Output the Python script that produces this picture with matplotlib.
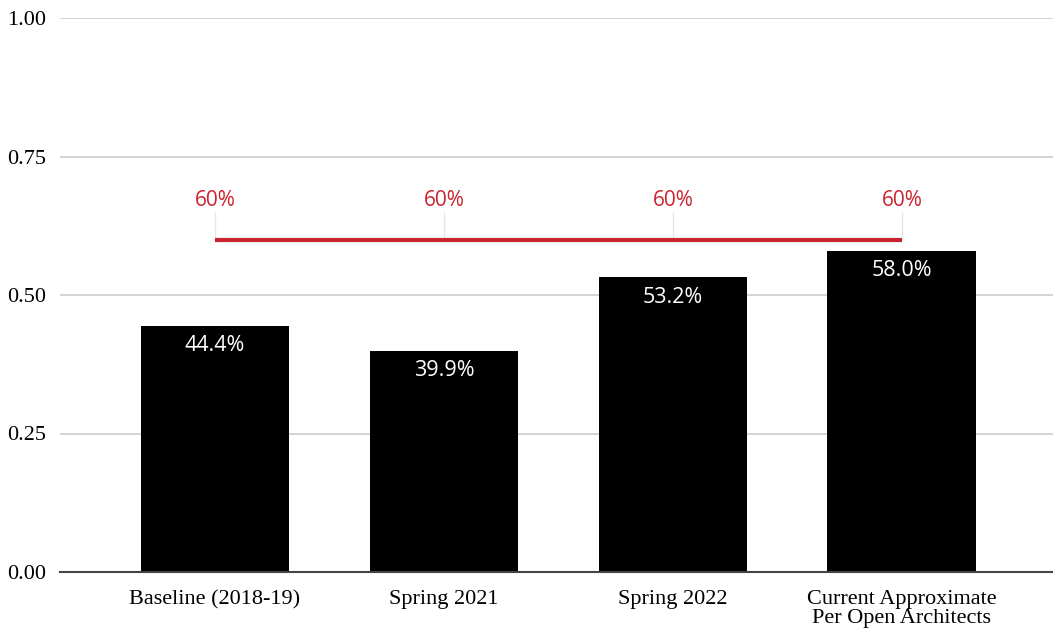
import matplotlib.pyplot as plt
import numpy as np

categories = ["Baseline (2018-19)", "Spring 2021", "Spring 2022",
              "Current Approximate\nPer Open Architects"]
values = [0.444, 0.399, 0.532, 0.580]
value_labels = ["44.4%", "39.9%", "53.2%", "58.0%"]
target = [0.60, 0.60, 0.60, 0.60]
target_labels = ["60%", "60%", "60%", "60%"]
yticks = [0.0, 0.25, 0.5, 0.75, 1.0]

RED = "#c9232f"

fig = plt.figure(figsize=(10.53, 6.28), dpi=100)
ax = fig.add_axes([60 / 1053, 1 - 572 / 628, 993 / 1053, 554 / 628])

x = np.arange(len(categories))
ax.bar(x, values, width=0.65, color="black", zorder=3)

for xi, v, lab in zip(x, values, value_labels):
    ax.text(xi, v - 0.017, lab, ha="center", va="top", color="white",
            fontsize=15.5, family="Open Sans", zorder=4)

# target line with small leader ticks and labels
ax.plot(x, target, color=RED, linewidth=3, zorder=3, solid_capstyle="butt")
for xi, t, lab in zip(x, target, target_labels):
    ax.vlines(xi, t, t + 0.05, color="#e6e6e6", linewidth=1, zorder=2)
    ax.text(xi, t + 0.052, lab, ha="center", va="bottom", color=RED,
            fontsize=15, family="Open Sans", zorder=4)

ax.set_ylim(0, 1.0)
ax.set_xlim(-0.677, 3.66)
ax.set_yticks(yticks)
ax.set_yticklabels([f"{t:.2f}" for t in yticks], family="Liberation Serif",
                   fontsize=16)
ax.set_xticks(x)
ax.set_xticklabels(categories, family="Liberation Serif", fontsize=16,
                   linespacing=0.97)
ax.tick_params(axis="both", length=0, pad=10)
ax.tick_params(axis="x", pad=13)
ax.yaxis.grid(True, color="#cccccc", linewidth=1.2, zorder=0)
ax.set_axisbelow(True)
for side in ["left", "right", "top"]:
    ax.spines[side].set_visible(False)
ax.spines["bottom"].set_color("#444444")
ax.spines["bottom"].set_linewidth(1.5)
ax.spines["bottom"].set_zorder(5)

fig.savefig("out.png", dpi=100)
